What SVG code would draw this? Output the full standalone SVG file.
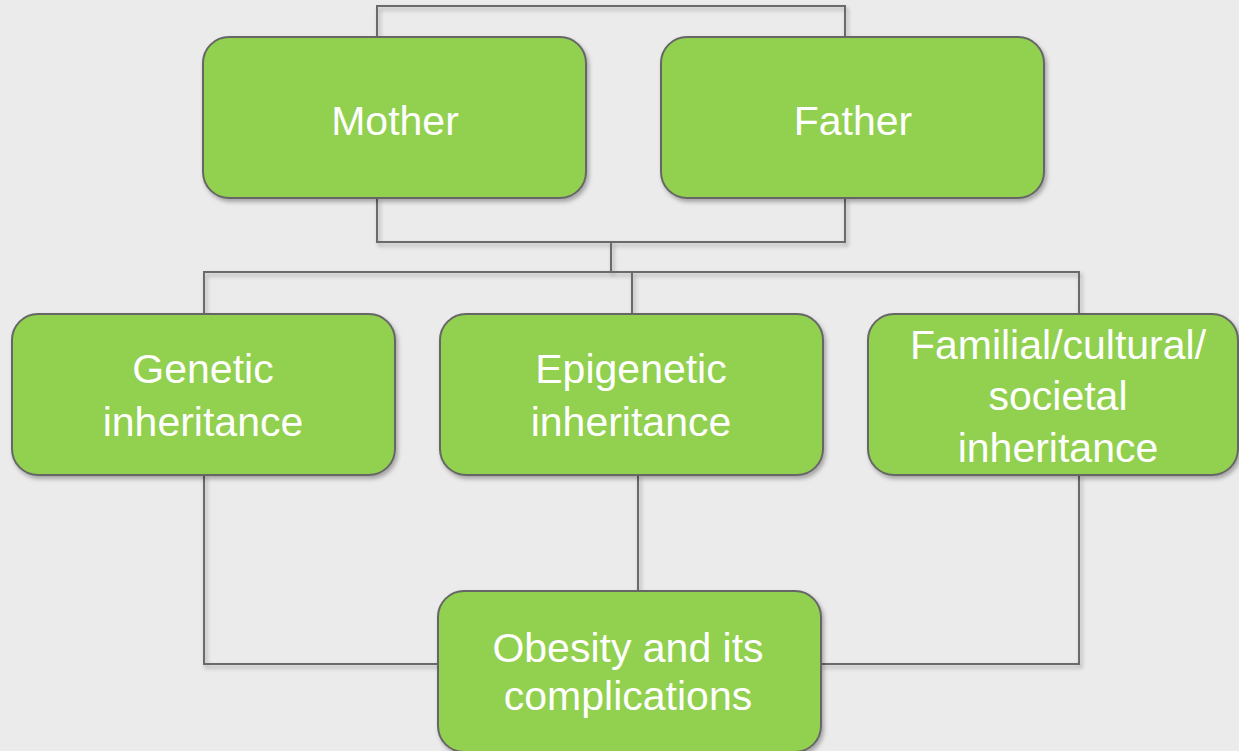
<svg xmlns="http://www.w3.org/2000/svg" width="1239" height="751" viewBox="0 0 1239 751">
<defs>
<filter id="sh" filterUnits="userSpaceOnUse" x="0" y="0" width="1239" height="751">
<feDropShadow dx="2" dy="3" stdDeviation="2" flood-color="#000" flood-opacity="0.3"/>
</filter>
<style>
.box{fill:#92d050;stroke:#666;stroke-width:2;filter:url(#sh)}
.lbl{fill:#fff;font-family:"Liberation Sans",Arial,sans-serif;font-size:41px;text-anchor:middle}
.con{fill:none;stroke:#6b6b6b;stroke-width:2;filter:url(#sh)}
</style>
</defs>
<rect width="1239" height="751" fill="#ebebeb"/>
<g id="connectors">
<polyline class="con" points="377,37 377,6 845,6 845,37"/>
<polyline class="con" points="377,198 377,242 845,242 845,198"/>
<line class="con" x1="611" y1="242" x2="611" y2="272"/>
<polyline class="con" points="204,314 204,272 1079,272 1079,314"/>
<line class="con" x1="632" y1="272" x2="632" y2="314"/>
<polyline class="con" points="204,475 204,664 439,664"/>
<line class="con" x1="638" y1="475" x2="638" y2="591"/>
<polyline class="con" points="1079,475 1079,664 820,664"/>
</g>
<g id="mother">
<rect class="box" x="203" y="37" width="383" height="161" rx="26"/>
<text class="lbl" x="395" y="135">Mother</text>
</g>
<g id="father">
<rect class="box" x="661" y="37" width="383" height="161" rx="26"/>
<text class="lbl" x="853" y="135">Father</text>
</g>
<g id="genetic">
<rect class="box" x="12" y="314" width="383" height="161" rx="26"/>
<text class="lbl" x="203" y="383">Genetic</text>
<text class="lbl" x="203" y="436">inheritance</text>
</g>
<g id="epigenetic">
<rect class="box" x="440" y="314" width="383" height="161" rx="26"/>
<text class="lbl" x="631" y="383">Epigenetic</text>
<text class="lbl" x="631" y="436">inheritance</text>
</g>
<g id="familial">
<rect class="box" x="868" y="314" width="370" height="161" rx="26"/>
<text class="lbl" x="1058" y="359">Familial/cultural/</text>
<text class="lbl" x="1058" y="410">societal</text>
<text class="lbl" x="1058" y="462">inheritance</text>
</g>
<g id="obesity">
<rect class="box" x="438" y="591" width="383" height="161" rx="26"/>
<text class="lbl" x="628" y="662">Obesity and its</text>
<text class="lbl" x="628" y="710">complications</text>
</g>
</svg>
